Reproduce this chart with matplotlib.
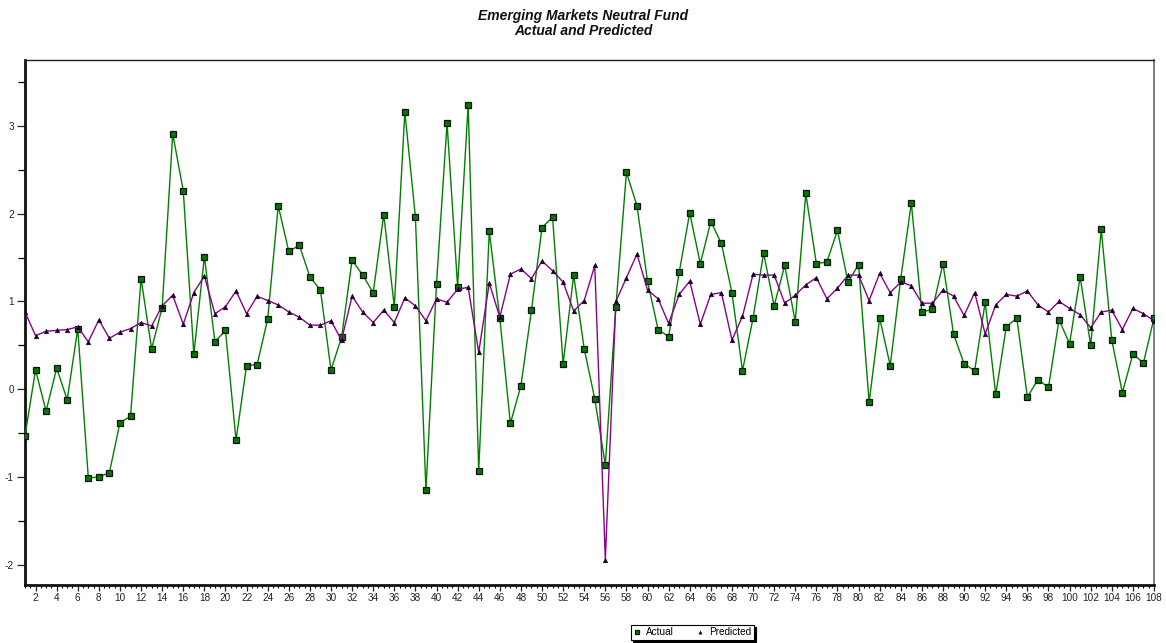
import matplotlib
matplotlib.use("Agg")
import matplotlib.pyplot as plt
from matplotlib.ticker import MultipleLocator

plt.rcParams['font.family'] = ['Liberation Sans', 'DejaVu Sans']
plt.rcParams['axes.unicode_minus'] = False

periods = list(range(1, 109))

actual = [
    -0.53, 0.22, -0.25, 0.24, -0.12, 0.69, -1.01, -1.00, -0.95, -0.38,
    -0.31, 1.26, 0.46, 0.93, 2.91, 2.26, 0.40, 1.51, 0.54, 0.67,
    -0.58, 0.27, 0.28, 0.80, 2.09, 1.57, 1.64, 1.28, 1.13, 0.22,
    0.59, 1.47, 1.30, 1.10, 1.99, 0.94, 3.16, 1.96, -1.15, 1.20,
    3.03, 1.17, 3.24, -0.93, 1.80, 0.81, -0.39, 0.04, 0.90, 1.84,
    1.96, 0.29, 1.30, 0.46, -0.11, -0.86, 0.94, 2.47, 2.09, 1.23,
    0.68, 0.60, 1.33, 2.01, 1.43, 1.91, 1.66, 1.10, 0.21, 0.81,
    1.55, 0.95, 1.41, 0.77, 2.23, 1.43, 1.45, 1.81, 1.22, 1.42,
    -0.15, 0.81, 0.27, 1.26, 2.12, 0.88, 0.91, 1.43, 0.63, 0.29,
    0.21, 0.99, -0.06, 0.71, 0.81, -0.09, 0.11, 0.02, 0.79, 0.52,
    1.28, 0.50, 1.82, 0.56, -0.04, 0.40, 0.30, 0.81,
]

predicted = [
    0.88, 0.61, 0.66, 0.67, 0.68, 0.71, 0.54, 0.79, 0.58, 0.65,
    0.69, 0.76, 0.72, 0.95, 1.07, 0.74, 1.10, 1.29, 0.86, 0.94,
    1.12, 0.86, 1.06, 1.01, 0.96, 0.88, 0.82, 0.73, 0.73, 0.78,
    0.56, 1.06, 0.88, 0.76, 0.90, 0.76, 1.04, 0.95, 0.78, 1.03,
    0.99, 1.14, 1.16, 0.42, 1.21, 0.82, 1.31, 1.37, 1.26, 1.46,
    1.35, 1.22, 0.89, 1.01, 1.41, -1.94, 1.00, 1.27, 1.54, 1.13,
    1.03, 0.75, 1.08, 1.23, 0.74, 1.08, 1.10, 0.56, 0.83, 1.31,
    1.30, 1.30, 0.98, 1.07, 1.19, 1.27, 1.03, 1.15, 1.30, 1.30,
    1.01, 1.32, 1.10, 1.22, 1.18, 0.98, 0.98, 1.13, 1.06, 0.84,
    1.10, 0.63, 0.96, 1.08, 1.06, 1.12, 0.96, 0.88, 1.00, 0.92,
    0.85, 0.70, 0.88, 0.90, 0.68, 0.92, 0.86, 0.78,
]

title_lines = ["Emerging Markets Neutral Fund", "Actual and Predicted"]

fig = plt.figure(figsize=(11.66, 6.43), dpi=100)
ax = fig.add_axes([25 / 1166, 58 / 643, 1129 / 1166, 525 / 643])

ax.plot(periods, actual, color='#008000', lw=1.0, marker='s', ms=4.6,
        mfc='#007a00', mec='#111111', mew=0.9, label='Actual', zorder=3)
ax.plot(periods, predicted, color='#8b008b', lw=1.0, marker='^', ms=3.4,
        mfc='#1a0020', mec='#1a0020', mew=0.3, label='Predicted', zorder=4)

ax.set_xlim(1, 108)
ax.set_ylim(-2.23, 3.75)

ax.xaxis.set_major_locator(MultipleLocator(2))
ax.xaxis.set_minor_locator(MultipleLocator(0.5))
ax.yaxis.set_major_locator(MultipleLocator(1))
ax.yaxis.set_minor_locator(MultipleLocator(0.5))

ax.tick_params(axis='both', which='major', labelsize=7.2, colors='#222222',
               direction='out', width=0.9)
ax.tick_params(axis='x', which='major', length=4, pad=2)
ax.tick_params(axis='x', which='minor', length=2, width=0.8)
ax.tick_params(axis='y', which='major', length=6, pad=2)
ax.tick_params(axis='y', which='minor', length=5, width=0.9)
ax.set_xticks(range(2, 109, 2))

for side in ('left', 'bottom'):
    ax.spines[side].set_linewidth(2.0)
    ax.spines[side].set_color('#111111')
ax.spines['top'].set_linewidth(1.0)
ax.spines['top'].set_color('#222222')
ax.spines['right'].set_linewidth(1.2)
ax.spines['right'].set_color('#666666')

fig.text(0.5, 1 - 16 / 643, title_lines[0], ha='center', va='center',
         fontsize=10, fontweight='bold', fontstyle='italic', color='#111111')
fig.text(0.5, 1 - 31 / 643, title_lines[1], ha='center', va='center',
         fontsize=10, fontweight='bold', fontstyle='italic', color='#111111')

leg = fig.legend(loc='center', bbox_to_anchor=(692 / 1166, 1 - 632 / 643),
                 ncol=2, fontsize=7.2, frameon=True, fancybox=False,
                 shadow={'color': 'black', 'alpha': 1.0},
                 edgecolor='black', borderpad=0.25, handlelength=0.8,
                 handletextpad=0.5, columnspacing=2.2, markerscale=0.7,
                 borderaxespad=0)
leg.get_frame().set_linewidth(0.8)
for h in leg.legend_handles:
    h.set_linestyle('none')

fig.savefig('out.png', dpi=100)
